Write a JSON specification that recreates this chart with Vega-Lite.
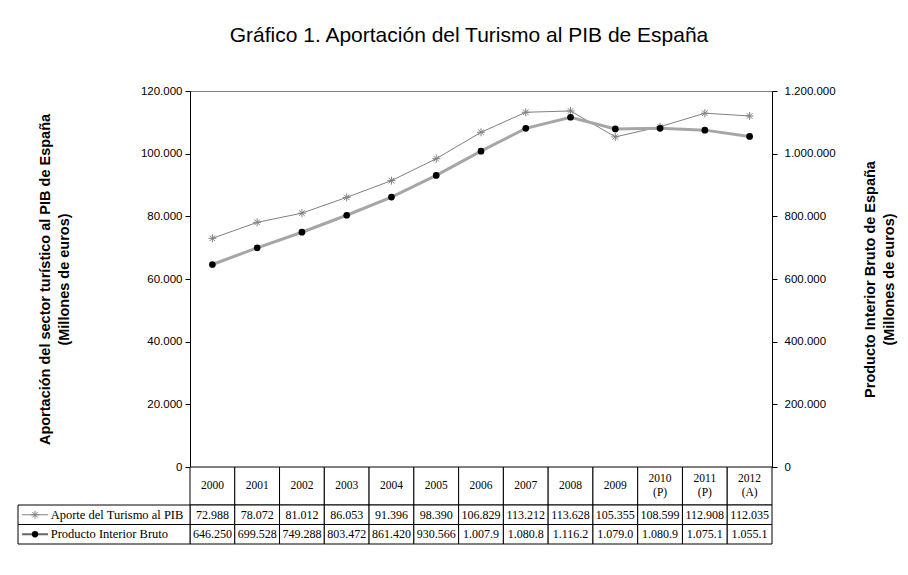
{
  "$schema": "https://vega.github.io/schema/vega-lite/v6.json",
  "width": 582,
  "height": 376,
  "autosize": {"type": "none"},
  "padding": {"left": 190, "top": 91, "right": 136, "bottom": 108},
  "background": "white",
  "title": {
    "text": "Gráfico 1. Aportación del Turismo al PIB de España",
    "font": "Liberation Sans",
    "fontSize": 21,
    "fontWeight": "normal",
    "color": "#000000",
    "anchor": "middle",
    "offset": 39,
    "dx": -12
  },
  "datasets": {
    "series": [
      {"year": "2000", "sub": null, "aporte": 72988, "pib": 646250},
      {"year": "2001", "sub": null, "aporte": 78072, "pib": 699528},
      {"year": "2002", "sub": null, "aporte": 81012, "pib": 749288},
      {"year": "2003", "sub": null, "aporte": 86053, "pib": 803472},
      {"year": "2004", "sub": null, "aporte": 91396, "pib": 861420},
      {"year": "2005", "sub": null, "aporte": 98390, "pib": 930566},
      {"year": "2006", "sub": null, "aporte": 106829, "pib": 1007900},
      {"year": "2007", "sub": null, "aporte": 113212, "pib": 1080800},
      {"year": "2008", "sub": null, "aporte": 113628, "pib": 1116200},
      {"year": "2009", "sub": null, "aporte": 105355, "pib": 1079000},
      {"year": "2010", "sub": "(P)", "aporte": 108599, "pib": 1080900},
      {"year": "2011", "sub": "(P)", "aporte": 112908, "pib": 1075100},
      {"year": "2012", "sub": "(A)", "aporte": 112035, "pib": 1055100}
    ],
    "table": [
      {"year": "2000", "row": "aporte", "label": "72.988"},
      {"year": "2001", "row": "aporte", "label": "78.072"},
      {"year": "2002", "row": "aporte", "label": "81.012"},
      {"year": "2003", "row": "aporte", "label": "86.053"},
      {"year": "2004", "row": "aporte", "label": "91.396"},
      {"year": "2005", "row": "aporte", "label": "98.390"},
      {"year": "2006", "row": "aporte", "label": "106.829"},
      {"year": "2007", "row": "aporte", "label": "113.212"},
      {"year": "2008", "row": "aporte", "label": "113.628"},
      {"year": "2009", "row": "aporte", "label": "105.355"},
      {"year": "2010", "row": "aporte", "label": "108.599"},
      {"year": "2011", "row": "aporte", "label": "112.908"},
      {"year": "2012", "row": "aporte", "label": "112.035"},
      {"year": "2000", "row": "pib", "label": "646.250"},
      {"year": "2001", "row": "pib", "label": "699.528"},
      {"year": "2002", "row": "pib", "label": "749.288"},
      {"year": "2003", "row": "pib", "label": "803.472"},
      {"year": "2004", "row": "pib", "label": "861.420"},
      {"year": "2005", "row": "pib", "label": "930.566"},
      {"year": "2006", "row": "pib", "label": "1.007.9"},
      {"year": "2007", "row": "pib", "label": "1.080.8"},
      {"year": "2008", "row": "pib", "label": "1.116.2"},
      {"year": "2009", "row": "pib", "label": "1.079.0"},
      {"year": "2010", "row": "pib", "label": "1.080.9"},
      {"year": "2011", "row": "pib", "label": "1.075.1"},
      {"year": "2012", "row": "pib", "label": "1.055.1"}
    ],
    "legend": [
      {"col": "leg", "row": "aporte", "name": "Aporte del Turismo al PIB"},
      {"col": "leg", "row": "pib", "name": "Producto Interior Bruto"}
    ]
  },
  "layer": [
    {
      "layer": [
        {
          "data": {"name": "series"},
          "mark": {"type": "line", "color": "#808080", "strokeWidth": 1},
          "encoding": {
            "x": {"field": "year", "type": "nominal", "axis": null,
                  "scale": {"type": "band", "domain": ["2000","2001","2002","2003","2004","2005","2006","2007","2008","2009","2010","2011","2012"], "paddingInner": 0, "paddingOuter": 0}},
            "y": {"field": "aporte", "type": "quantitative",
                  "scale": {"domain": [0, 120000], "nice": false, "zero": true},
                  "axis": {
                    "orient": "left",
                    "values": [0, 20000, 40000, 60000, 80000, 100000, 120000],
                    "labelExpr": "replace(replace(format(datum.value, ','), ',', '.'), ',', '.')",
                    "title": ["Aportación del sector turístico al PIB de España", "(Millones de euros)"],
                    "grid": false,
                    "domainColor": "#000000",
                    "tickColor": "#000000",
                    "tickSize": 5,
                    "labelColor": "#000000",
                    "labelFont": "Liberation Sans",
                    "labelFontSize": 11.5,
                    "labelPadding": 3,
                    "titleFont": "Liberation Sans",
                    "titleFontSize": 14.5,
                    "titleFontWeight": "bold",
                    "titleColor": "#000000",
                    "titleLineHeight": 19,
                    "titlePadding": 69
                  }}
          }
        },
        {
          "data": {"name": "series"},
          "mark": {"type": "point", "shape": "M-1,0L1,0M0,-1L0,1M-0.7,-0.7L0.7,0.7M-0.7,0.7L0.7,-0.7", "filled": false, "stroke": "#808080", "strokeWidth": 1, "size": 64, "opacity": 1},
          "encoding": {
            "x": {"field": "year", "type": "nominal", "axis": null},
            "y": {"field": "aporte", "type": "quantitative", "scale": {"domain": [0, 120000], "nice": false}, "axis": null}
          }
        },
        {
          "data": {"name": "series"},
          "mark": {"type": "line", "color": "#a6a6a6", "strokeWidth": 3},
          "encoding": {
            "x": {"field": "year", "type": "nominal", "axis": null},
            "y": {"field": "pib", "type": "quantitative",
                  "scale": {"domain": [0, 1200000], "nice": false},
                  "axis": {
                    "orient": "right",
                    "values": [0, 200000, 400000, 600000, 800000, 1000000, 1200000],
                    "labelExpr": "replace(replace(format(datum.value, ','), ',', '.'), ',', '.')",
                    "title": ["Producto Interior Bruto de España", "(Millones de euros)"],
                    "grid": false,
                    "domainColor": "#000000",
                    "tickColor": "#000000",
                    "tickSize": 5,
                    "labelColor": "#000000",
                    "labelFont": "Liberation Sans",
                    "labelFontSize": 11.5,
                    "labelPadding": 7,
                    "titleFont": "Liberation Sans",
                    "titleFontSize": 14.5,
                    "titleFontWeight": "bold",
                    "titleColor": "#000000",
                    "titleLineHeight": 19,
                    "titleAngle": 270,
                    "titleBaseline": "top",
                    "titlePadding": 9
                  }}
          }
        },
        {
          "data": {"name": "series"},
          "mark": {"type": "circle", "color": "#000000", "size": 45, "opacity": 1},
          "encoding": {
            "x": {"field": "year", "type": "nominal", "axis": null},
            "y": {"field": "pib", "type": "quantitative", "scale": {"domain": [0, 1200000], "nice": false}, "axis": null}
          }
        },
        {
          "data": {"name": "series"},
          "mark": {"type": "rect", "fill": "#ffffff", "stroke": "#000000", "strokeWidth": 1},
          "encoding": {
            "x": {"field": "year", "type": "nominal", "axis": null},
            "y": {"datum": "h", "type": "nominal", "scale": {"type": "band", "domain": ["h"], "range": [376, 414], "paddingInner": 0, "paddingOuter": 0}, "axis": null}
          }
        },
        {
          "data": {"name": "series"},
          "transform": [{"filter": "datum.sub == null"}],
          "mark": {"type": "text", "font": "Liberation Serif", "fontSize": 11.5, "color": "#000000", "baseline": "middle", "align": "center"},
          "encoding": {
            "x": {"field": "year", "type": "nominal", "axis": null},
            "y": {"datum": "h", "type": "nominal", "scale": {"type": "band", "domain": ["h"], "range": [376, 414], "paddingInner": 0, "paddingOuter": 0}, "axis": null},
            "text": {"field": "year"}
          }
        },
        {
          "data": {"name": "series"},
          "transform": [{"filter": "datum.sub != null"}],
          "mark": {"type": "text", "font": "Liberation Serif", "fontSize": 11.5, "color": "#000000", "baseline": "middle", "align": "center", "dy": -7},
          "encoding": {
            "x": {"field": "year", "type": "nominal", "axis": null},
            "y": {"datum": "h", "type": "nominal", "scale": {"type": "band", "domain": ["h"], "range": [376, 414], "paddingInner": 0, "paddingOuter": 0}, "axis": null},
            "text": {"field": "year"}
          }
        },
        {
          "data": {"name": "series"},
          "transform": [{"filter": "datum.sub != null"}],
          "mark": {"type": "text", "font": "Liberation Serif", "fontSize": 11.5, "color": "#000000", "baseline": "middle", "align": "center", "dy": 7},
          "encoding": {
            "x": {"field": "year", "type": "nominal", "axis": null},
            "y": {"datum": "h", "type": "nominal", "scale": {"type": "band", "domain": ["h"], "range": [376, 414], "paddingInner": 0, "paddingOuter": 0}, "axis": null},
            "text": {"field": "sub"}
          }
        },
        {
          "data": {"name": "table"},
          "mark": {"type": "rect", "fill": "#ffffff", "stroke": "#000000", "strokeWidth": 1},
          "encoding": {
            "x": {"field": "year", "type": "nominal", "axis": null},
            "y": {"field": "row", "type": "nominal", "scale": {"type": "band", "domain": ["aporte", "pib"], "range": [414, 453], "paddingInner": 0, "paddingOuter": 0}, "axis": null}
          }
        },
        {
          "data": {"name": "table"},
          "mark": {"type": "text", "font": "Liberation Serif", "fontSize": 12, "color": "#000000", "baseline": "middle", "align": "center"},
          "encoding": {
            "x": {"field": "year", "type": "nominal", "axis": null},
            "y": {"field": "row", "type": "nominal", "scale": {"type": "band", "domain": ["aporte", "pib"], "range": [414, 453], "paddingInner": 0, "paddingOuter": 0}, "axis": null},
            "text": {"field": "label"}
          }
        }
      ],
      "resolve": {"scale": {"y": "independent"}, "axis": {"y": "independent"}}
    },
    {
      "data": {"name": "legend"},
      "encoding": {
        "x": {"field": "col", "type": "nominal", "axis": null, "scale": {"type": "band", "domain": ["leg"], "range": [-172, 0], "paddingInner": 0, "paddingOuter": 0}},
        "y": {"field": "row", "type": "nominal", "axis": null, "scale": {"type": "band", "domain": ["aporte", "pib"], "range": [414, 453], "paddingInner": 0, "paddingOuter": 0}}
      },
      "layer": [
        {"mark": {"type": "rect", "fill": "#ffffff", "stroke": "#000000", "strokeWidth": 1}},
        {
          "mark": {"type": "text", "font": "Liberation Serif", "fontSize": 12.5, "color": "#000000", "baseline": "middle", "align": "left"},
          "encoding": {
            "x": {"field": "col", "type": "nominal", "bandPosition": 0.19},
            "text": {"field": "name"}
          }
        },
        {
          "transform": [{"filter": "datum.row === 'aporte'"}],
          "mark": {"type": "point", "shape": "M-1,0L1,0", "filled": false, "stroke": "#808080", "strokeWidth": 1, "size": 676, "opacity": 1},
          "encoding": {"x": {"field": "col", "type": "nominal", "bandPosition": 0.099}}
        },
        {
          "transform": [{"filter": "datum.row === 'aporte'"}],
          "mark": {"type": "point", "shape": "M-1,0L1,0M0,-1L0,1M-0.7,-0.7L0.7,0.7M-0.7,0.7L0.7,-0.7", "filled": false, "stroke": "#808080", "strokeWidth": 1, "size": 64, "opacity": 1},
          "encoding": {"x": {"field": "col", "type": "nominal", "bandPosition": 0.099}}
        },
        {
          "transform": [{"filter": "datum.row === 'pib'"}],
          "mark": {"type": "point", "shape": "M-1,0L1,0", "filled": false, "stroke": "#666666", "strokeWidth": 2, "size": 676, "opacity": 1},
          "encoding": {"x": {"field": "col", "type": "nominal", "bandPosition": 0.099}}
        },
        {
          "transform": [{"filter": "datum.row === 'pib'"}],
          "mark": {"type": "circle", "color": "#000000", "size": 40, "opacity": 1},
          "encoding": {"x": {"field": "col", "type": "nominal", "bandPosition": 0.099}}
        }
      ]
    }
  ],
  "resolve": {"scale": {"x": "independent", "y": "independent"}, "axis": {"x": "independent", "y": "independent"}},
  "config": {
    "font": "Liberation Sans",
    "view": {"stroke": "#808080", "strokeWidth": 1}
  }
}
